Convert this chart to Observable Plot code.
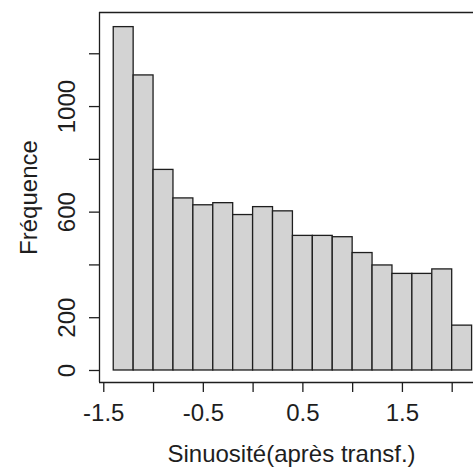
<!DOCTYPE html>
<html>
<head>
<meta charset="utf-8">
<script src="https://cdn.jsdelivr.net/npm/d3@7"></script>
<script src="https://cdn.jsdelivr.net/npm/@observablehq/plot@0.6"></script>
<style>
  html, body { margin: 0; padding: 0; background: #fff; }
  #chart { width: 473px; height: 469px; overflow: hidden; }
</style>
</head>
<body>
<div id="chart"></div>
<script>
// Histogram bins (left edges) and counts
const binStarts = [-1.4, -1.2, -1.0, -0.8, -0.6, -0.4, -0.2, 0.0, 0.2, 0.4, 0.6, 0.8, 1.0, 1.2, 1.4, 1.6, 1.8, 2.0];
const binWidth = 0.2;
const counts = [1301, 1118, 760, 652, 626, 634, 589, 619, 603, 510, 510, 505, 445, 398, 366, 366, 383, 170];

const xTicks = [-1.5, -1.0, -0.5, 0.0, 0.5, 1.0, 1.5, 2.0];
const xTickLabels = [-1.5, -0.5, 0.5, 1.5];
const yTicks = [0, 200, 400, 600, 800, 1000, 1200];
const yTickLabels = [0, 200, 600, 1000];

const xTitle = "Sinuosité(après transf.)";
const yTitle = "Fréquence";

const xDomain = [-1.543, 2.214];
const yDomain = [-45.5, 1356.4];

const bins = binStarts.map((x, i) => ({x1: x, x2: x + binWidth, count: counts[i]}));

const ink = "#1e1e1e";
const fs = 24;

const chart = Plot.plot({
  width: 473,
  height: 469,
  marginLeft: 99,
  marginRight: 0,
  marginTop: 12,
  marginBottom: 87,
  style: {fontFamily: "'Liberation Sans', Arial, sans-serif", background: "#fff", color: ink},
  x: {domain: xDomain},
  y: {domain: yDomain},
  marks: [
    Plot.rect(bins, {x1: "x1", x2: "x2", y1: 0, y2: "count", fill: "#d3d3d3", stroke: ink, strokeWidth: 1.3}),
    Plot.ruleY([yDomain[1]], {stroke: ink, strokeWidth: 1.3}),
    Plot.ruleY([yDomain[0]], {stroke: ink, strokeWidth: 1.3}),
    Plot.ruleX([xDomain[0]], {stroke: ink, strokeWidth: 1.3}),
    Plot.axisX({
      ticks: xTicks,
      tickFormat: d => xTickLabels.some(v => Math.abs(v - d) < 1e-9) ? d.toFixed(1) : "",
      tickSize: 10,
      tickPadding: 11,
      fontSize: fs,
      stroke: ink,
      strokeWidth: 1.3,
      fill: ink,
      label: null
    }),
    Plot.axisY({
      ticks: yTicks,
      tickFormat: () => "",
      tickSize: 10,
      stroke: ink,
      strokeWidth: 1.3,
      label: null
    }),
    Plot.text(yTickLabels, {
      y: d => d,
      text: d => String(d),
      frameAnchor: "left",
      rotate: -90,
      textAnchor: "middle",
      lineAnchor: "middle",
      dx: -32,
      fontSize: fs,
      fill: ink
    }),
    Plot.text([yTitle], {
      text: d => d,
      frameAnchor: "left",
      rotate: -90,
      textAnchor: "middle",
      lineAnchor: "middle",
      dx: -70,
      fontSize: fs,
      fill: ink
    }),
    Plot.text([xTitle], {
      text: d => d,
      frameAnchor: "bottom",
      textAnchor: "middle",
      lineAnchor: "middle",
      dy: 72,
      dx: 5,
      fontSize: fs,
      fill: ink
    })
  ]
});
document.getElementById("chart").appendChild(chart);
</script>
</body>
</html>
